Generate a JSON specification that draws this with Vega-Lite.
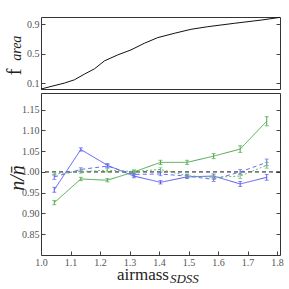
{
  "$schema": "https://vega.github.io/schema/vega-lite/v6.json",
  "padding": {"left": 3, "top": 14, "right": 5, "bottom": 5},
  "spacing": 0,
  "config": {
    "view": {"stroke": "#333", "strokeWidth": 1},
    "font": "Liberation Serif",
    "axis": {
      "labelFont": "Liberation Serif", "labelFontSize": 10, "labelColor": "#555",
      "tickSize": 4, "offset": -4, "domain": false, "tickColor": "#444", "grid": false,
      "labelPadding": 2, "titleFont": "Liberation Serif", "titleColor": "#222", "titleFontWeight": "normal",
      "labelOverlap": false, "labelFlush": false
    }
  },
  "datasets": {
    "farea": [
      {"x": 1.0, "f": 0.019}, {"x": 1.034, "f": 0.055}, {"x": 1.079, "f": 0.10}, {"x": 1.113, "f": 0.145},
      {"x": 1.147, "f": 0.222}, {"x": 1.181, "f": 0.294}, {"x": 1.215, "f": 0.403}, {"x": 1.26, "f": 0.484},
      {"x": 1.305, "f": 0.552}, {"x": 1.35, "f": 0.642}, {"x": 1.396, "f": 0.72}, {"x": 1.452, "f": 0.778},
      {"x": 1.508, "f": 0.832}, {"x": 1.565, "f": 0.868}, {"x": 1.655, "f": 0.914}, {"x": 1.746, "f": 0.958},
      {"x": 1.81, "f": 0.995}
    ],
    "ratio": [
      {"s": "bs", "x": 1.045, "y": 0.957, "e": 0.006}, {"s": "bs", "x": 1.135, "y": 1.054, "e": 0.004},
      {"s": "bs", "x": 1.225, "y": 1.016, "e": 0.004}, {"s": "bs", "x": 1.315, "y": 0.990, "e": 0.004},
      {"s": "bs", "x": 1.405, "y": 0.975, "e": 0.004}, {"s": "bs", "x": 1.495, "y": 0.988, "e": 0.004},
      {"s": "bs", "x": 1.585, "y": 0.990, "e": 0.005}, {"s": "bs", "x": 1.675, "y": 0.971, "e": 0.006},
      {"s": "bs", "x": 1.765, "y": 0.987, "e": 0.007},
      {"s": "gs", "x": 1.045, "y": 0.926, "e": 0.005}, {"s": "gs", "x": 1.135, "y": 0.983, "e": 0.004},
      {"s": "gs", "x": 1.225, "y": 0.980, "e": 0.004}, {"s": "gs", "x": 1.315, "y": 1.000, "e": 0.004},
      {"s": "gs", "x": 1.405, "y": 1.023, "e": 0.005}, {"s": "gs", "x": 1.495, "y": 1.023, "e": 0.005},
      {"s": "gs", "x": 1.585, "y": 1.038, "e": 0.006}, {"s": "gs", "x": 1.675, "y": 1.055, "e": 0.008},
      {"s": "gs", "x": 1.765, "y": 1.122, "e": 0.011},
      {"s": "bd", "x": 1.045, "y": 0.988, "e": 0.006}, {"s": "bd", "x": 1.135, "y": 1.006, "e": 0.004},
      {"s": "bd", "x": 1.225, "y": 1.014, "e": 0.004}, {"s": "bd", "x": 1.315, "y": 0.994, "e": 0.004},
      {"s": "bd", "x": 1.405, "y": 0.995, "e": 0.004}, {"s": "bd", "x": 1.495, "y": 0.990, "e": 0.004},
      {"s": "bd", "x": 1.585, "y": 0.982, "e": 0.005}, {"s": "bd", "x": 1.675, "y": 1.000, "e": 0.006},
      {"s": "bd", "x": 1.765, "y": 1.023, "e": 0.008},
      {"s": "gd", "x": 1.045, "y": 0.995, "e": 0.004}, {"s": "gd", "x": 1.135, "y": 1.001, "e": 0.004},
      {"s": "gd", "x": 1.225, "y": 1.004, "e": 0.004}, {"s": "gd", "x": 1.315, "y": 1.001, "e": 0.004},
      {"s": "gd", "x": 1.405, "y": 1.006, "e": 0.004}, {"s": "gd", "x": 1.495, "y": 0.991, "e": 0.004},
      {"s": "gd", "x": 1.585, "y": 0.987, "e": 0.005}, {"s": "gd", "x": 1.675, "y": 0.990, "e": 0.006},
      {"s": "gd", "x": 1.765, "y": 1.016, "e": 0.007}
    ]
  },
  "vconcat": [
    {
      "width": 239, "height": 72,
      "resolve": {"axis": {"x": "independent", "y": "independent"}},
      "layer": [
        {
          "data": {"name": "farea"},
          "mark": {"type": "line", "color": "#111", "strokeWidth": 1},
          "encoding": {
            "x": {"field": "x", "type": "quantitative", "scale": {"domain": [1.0, 1.81], "nice": false, "zero": false}, "axis": null},
            "y": {"field": "f", "type": "quantitative", "scale": {"domain": [0.02, 1.0], "nice": false, "zero": false},
                  "axis": {"orient": "left", "values": [0.1, 0.5, 0.9], "format": ".1f", "labelOverlap": false,
                           "title": "f", "titleFontSize": 20,
                           "titleAngle": 270, "titleBaseline": "alphabetic", "titleAlign": "center", "titleX": -25, "titleY": 54.5}}
          }
        },
        {
          "data": {"values": [{"x": 0.932, "y": 0.575, "t": "area"}]},
          "mark": {"type": "text", "angle": 270, "font": "Liberation Serif", "fontStyle": "italic", "fontSize": 14, "baseline": "alphabetic", "align": "center", "color": "#222", "clip": false},
          "encoding": {
            "x": {"field": "x", "type": "quantitative", "axis": null},
            "y": {"field": "y", "type": "quantitative", "axis": {"orient": "right", "labels": false, "title": null, "values": [0.1,0.5,0.9]}},
            "text": {"field": "t"}
          }
        }
      ]
    },
    {
      "width": 239, "height": 162,
      "resolve": {"axis": {"x": "independent", "y": "independent"}},
      "layer": [
        {
          "data": {"values": [{"y": 1.0}]},
          "mark": {"type": "rule", "color": "#111", "strokeDash": [4, 3], "strokeWidth": 1},
          "encoding": {
            "y": {"field": "y", "type": "quantitative", "scale": {"domain": [0.8, 1.19], "nice": false, "zero": false},
                  "axis": {"orient": "left", "values": [0.85,0.9,0.95,1.0,1.05,1.1,1.15], "format": ".2f", "labelOverlap": false,
                           "title": "n/n̄",
                           "titleFontSize": 20, "titleFontStyle": "italic", "titleAngle": 270, "titleBaseline": "alphabetic",
                           "titleAlign": "center", "titleX": -22, "titleY": 84.5}}
          }
        },
        {
          "data": {"name": "ratio"},
          "mark": {"type": "line", "strokeWidth": 1},
          "encoding": {
            "x": {"field": "x", "type": "quantitative", "scale": {"domain": [1.0, 1.81], "nice": false, "zero": false},
                  "axis": {"orient": "bottom", "values": [1.0,1.1,1.2,1.3,1.4,1.5,1.6,1.7,1.8], "format": ".1f",
                           "labelOverlap": false, "title": "airmass",
                           "titleFontSize": 17, "titleX": 101.5, "titleY": 28, "titleBaseline": "alphabetic", "titleAlign": "center"}},
            "y": {"field": "y", "type": "quantitative", "axis": null},
            "detail": {"field": "s"},
            "color": {"field": "s", "type": "nominal", "scale": {"domain": ["bs","gs","bd","gd"], "range": ["#5858f0","#4aa84a","#6a6af5","#6cbd6c"]}, "legend": null},
            "strokeDash": {"field": "s", "type": "nominal", "scale": {"domain": ["bs","gs","bd","gd"], "range": [[1,0],[1,0],[4,3],[2,2]]}, "legend": null}
          }
        },
        {
          "data": {"name": "ratio"},
          "transform": [{"calculate": "datum.y - datum.e", "as": "lo"}, {"calculate": "datum.y + datum.e", "as": "hi"}],
          "mark": {"type": "errorbar", "ticks": {"size": 4, "thickness": 1}, "thickness": 1},
          "encoding": {
            "x": {"field": "x", "type": "quantitative", "axis": null},
            "y": {"field": "lo", "type": "quantitative", "axis": null},
            "y2": {"field": "hi"},
            "color": {"field": "s", "type": "nominal", "legend": null}
          }
        },
        {
          "data": {"values": [{"x": 1.437, "y": 0.733, "t": "SDSS"}]},
          "mark": {"type": "text", "font": "Liberation Serif", "fontStyle": "italic", "fontSize": 13, "baseline": "alphabetic", "align": "left", "color": "#222", "clip": false},
          "encoding": {
            "x": {"field": "x", "type": "quantitative", "axis": null},
            "y": {"field": "y", "type": "quantitative", "axis": {"orient": "right", "labels": false, "title": null, "values": [0.85,0.9,0.95,1.0,1.05,1.1,1.15]}},
            "text": {"field": "t"}
          }
        }
      ]
    }
  ]
}
